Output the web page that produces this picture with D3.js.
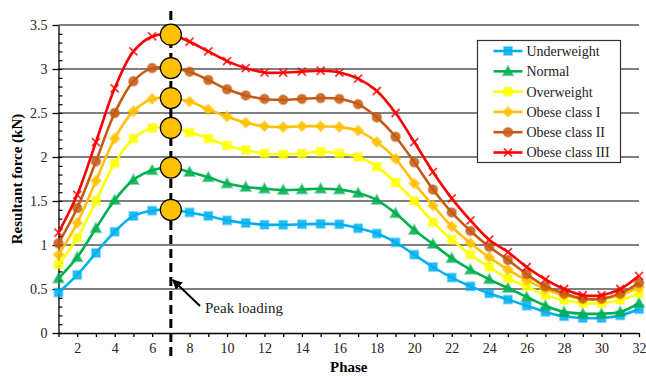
<!DOCTYPE html>
<html>
<head>
<meta charset="utf-8">
<script src="https://cdn.jsdelivr.net/npm/d3@7"></script>
<style>
  html, body { margin: 0; padding: 0; background: #fff; }
  svg { display: block; }
</style>
</head>
<body>
<svg id="chart" width="646" height="376"></svg>
<script>
// Data
const phases = d3.range(1, 33)
const seriesNames = ["Underweight", "Normal", "Overweight", "Obese class I", "Obese class II", "Obese class III"]
const underweight = [0.46, 0.66, 0.91, 1.15, 1.33, 1.39, 1.40, 1.37, 1.33, 1.28, 1.25, 1.23, 1.23, 1.235, 1.24, 1.235, 1.19, 1.13, 1.03, 0.89, 0.75, 0.63, 0.53, 0.45, 0.38, 0.31, 0.24, 0.19, 0.17, 0.17, 0.20, 0.27]
const normal = [0.62, 0.86, 1.19, 1.51, 1.74, 1.85, 1.88, 1.83, 1.77, 1.70, 1.66, 1.64, 1.625, 1.63, 1.64, 1.63, 1.59, 1.51, 1.36, 1.17, 1.01, 0.85, 0.72, 0.61, 0.51, 0.41, 0.31, 0.24, 0.22, 0.22, 0.24, 0.34]
const overweight = [0.78, 1.08, 1.50, 1.93, 2.21, 2.33, 2.33, 2.28, 2.21, 2.13, 2.08, 2.04, 2.03, 2.04, 2.06, 2.04, 2.00, 1.89, 1.71, 1.50, 1.26, 1.06, 0.89, 0.75, 0.62, 0.53, 0.43, 0.375, 0.34, 0.34, 0.375, 0.45]
const obese1 = [0.89, 1.25, 1.73, 2.21, 2.52, 2.66, 2.67, 2.63, 2.54, 2.46, 2.39, 2.35, 2.34, 2.35, 2.35, 2.34, 2.30, 2.17, 1.98, 1.70, 1.45, 1.21, 1.02, 0.86, 0.72, 0.60, 0.50, 0.43, 0.39, 0.39, 0.43, 0.52]
const obese2 = [1.02, 1.42, 1.95, 2.50, 2.86, 3.01, 3.01, 2.97, 2.875, 2.77, 2.70, 2.66, 2.65, 2.66, 2.67, 2.66, 2.60, 2.45, 2.23, 1.94, 1.63, 1.37, 1.16, 0.98, 0.83, 0.67, 0.53, 0.45, 0.39, 0.39, 0.45, 0.57]
const obese3 = [1.14, 1.57, 2.17, 2.78, 3.20, 3.37, 3.39, 3.31, 3.20, 3.09, 3.01, 2.96, 2.96, 2.97, 2.98, 2.96, 2.89, 2.75, 2.50, 2.17, 1.83, 1.53, 1.28, 1.06, 0.92, 0.75, 0.61, 0.50, 0.43, 0.43, 0.50, 0.65]
const peakPhase = 7
const yTicks = [0, 0.5, 1, 1.5, 2, 2.5, 3, 3.5]

// Styles
const font = "'Liberation Serif', 'DejaVu Serif', serif"
const colors = ["#00B0F0", "#00B050", "#FFFF00", "#FFC000", "#C55A11", "#FF0000"]
const shapes = ["square", "triangle", "square", "diamond", "circle", "cross"]
const values = [underweight, normal, overweight, obese1, obese2, obese3]

// Create SVG
const svg = d3.select("#chart").attr("font-family", font)
const margin = { top: 25, right: 7, bottom: 43, left: 58.5 }
const width = 646, height = 376
const x = d3.scaleLinear().domain([1, 32]).range([margin.left, width - margin.right])
const y = d3.scaleLinear().domain([0, 3.5]).range([height - margin.bottom, margin.top])

// Gridlines
svg.append("g")
  .selectAll("line")
  .data(yTicks.filter(d => d > 0))
  .join("line")
  .attr("x1", x(1)).attr("x2", x(32))
  .attr("y1", d => y(d)).attr("y2", d => y(d))
  .attr("stroke", "#555").attr("stroke-width", 1.3)

// Axes
const yAxis = svg.append("g")
  .attr("transform", `translate(${x(1)},0)`)
  .call(d3.axisLeft(y).tickValues(yTicks).tickSize(6).tickSizeOuter(0).tickFormat(d3.format("")))
svg.append("g")
  .attr("transform", `translate(${x(1)},0)`)
  .call(d3.axisRight(y).tickValues(d3.range(0, 35).map(i => i / 10)).tickSize(4).tickSizeOuter(0).tickFormat(""))
  .call(g => g.select(".domain").remove())
  .selectAll("line").attr("stroke", "#000").attr("stroke-width", 1.2)
const xAxis = svg.append("g")
  .attr("transform", `translate(0,${y(0)})`)
  .call(d3.axisBottom(x).tickValues(phases).tickSize(4).tickSizeOuter(0).tickFormat(d => d % 2 ? "" : d))
for (const g of [yAxis, xAxis]) {
  g.attr("font-family", font).attr("font-size", 14)
  g.selectAll("path, line").attr("stroke", "#000").attr("stroke-width", 1.3)
  g.selectAll("text").attr("fill", "#222")
}
yAxis.selectAll("text").attr("x", -11)
xAxis.selectAll("text").attr("y", 10)

// Axis titles
svg.append("text")
  .attr("x", (x(1) + x(32)) / 2).attr("y", 372)
  .attr("text-anchor", "middle").attr("font-weight", "bold").attr("font-size", 15)
  .text("Phase")
svg.append("text")
  .attr("transform", `translate(22,${(y(0) + y(3.5)) / 2}) rotate(-90)`)
  .attr("text-anchor", "middle").attr("font-weight", "bold").attr("font-size", 15)
  .text("Resultant force (kN)")

// Marker helper
function marker(g, shape, color, s) {
  const h = s / 2
  const style = sel => sel.attr("fill", color).attr("fill-opacity", 0.85)
    .attr("stroke", color).attr("stroke-opacity", 0.45).attr("stroke-width", 2)
  if (shape === "square") {
    g.append("rect").attr("x", -h).attr("y", -h).attr("width", s).attr("height", s).call(style)
  } else if (shape === "triangle") {
    g.append("path").attr("d", `M0,${-h - 1}L${h + 1},${h}L${-h - 1},${h}Z`).call(style)
  } else if (shape === "diamond") {
    g.append("path").attr("d", `M0,${-h - 1}L${h + 1},0L0,${h + 1}L${-h - 1},0Z`).call(style)
  } else if (shape === "circle") {
    g.append("circle").attr("r", h + 0.5).call(style)
  } else {
    g.append("path").attr("d", `M${-h},${-h}L${h},${h}M${-h},${h}L${h},${-h}M${-h + 1},-2L-2,${-h + 1}M2,${h - 1}L${h - 1},2`)
      .attr("stroke", color).attr("stroke-opacity", 0.8).attr("stroke-width", 1.8).attr("fill", "none")
  }
}

// Render series lines and markers
const line = d3.line().x((_, i) => x(phases[i])).y(d => y(d)).curve(d3.curveCatmullRom.alpha(0.5))
values.forEach((v, k) => {
  const g = svg.append("g")
  g.append("path")
    .attr("d", line(v))
    .attr("fill", "none").attr("stroke", colors[k]).attr("stroke-width", 2.6)
  g.selectAll("g")
    .data(v)
    .join("g")
    .attr("transform", (d, i) => `translate(${x(phases[i])},${y(d)})`)
    .each(function () { marker(d3.select(this), shapes[k], colors[k], 8) })
})

// Peak loading line
svg.append("line")
  .attr("x1", x(peakPhase)).attr("x2", x(peakPhase))
  .attr("y1", 11).attr("y2", 357)
  .attr("stroke", "#000").attr("stroke-width", 3).attr("stroke-dasharray", "9,5")

// Peak circles
svg.append("g")
  .selectAll("circle")
  .data(values.map(v => v[peakPhase - 1]))
  .join("circle")
  .attr("cx", x(peakPhase)).attr("cy", d => y(d)).attr("r", 10.5)
  .attr("fill", "#FFC000").attr("stroke", "#000").attr("stroke-width", 1.2)

// Annotation
svg.append("defs").append("marker")
  .attr("id", "arrow").attr("viewBox", "0 0 10 10").attr("refX", 9).attr("refY", 5)
  .attr("markerWidth", 5).attr("markerHeight", 5).attr("orient", "auto-start-reverse")
  .append("path").attr("d", "M0,0L10,5L0,10Z").attr("fill", "#000")
svg.append("line")
  .attr("x1", 200).attr("y1", 306).attr("x2", x(peakPhase) + 2).attr("y2", 280)
  .attr("stroke", "#000").attr("stroke-width", 2).attr("marker-end", "url(#arrow)")
svg.append("text")
  .attr("x", 205).attr("y", 313).attr("font-size", 15).attr("fill", "#222")
  .text("Peak loading")

// Legend
const legend = svg.append("g").attr("transform", "translate(477.5,40.5)")
legend.append("rect")
  .attr("width", 143).attr("height", 122)
  .attr("fill", "#fff").attr("stroke", "#333").attr("stroke-width", 1.2)
seriesNames.forEach((name, k) => {
  const row = legend.append("g").attr("transform", `translate(0,${10.5 + k * 20.3})`)
  row.append("line").attr("x1", 16).attr("x2", 45).attr("stroke", colors[k]).attr("stroke-width", 2.6)
  marker(row.append("g").attr("transform", "translate(30.5,0)"), shapes[k], colors[k], 8)
  row.append("text")
    .attr("x", 49).attr("dy", "0.35em").attr("font-size", 14).attr("fill", "#222")
    .text(name)
})
</script>
</body>
</html>
